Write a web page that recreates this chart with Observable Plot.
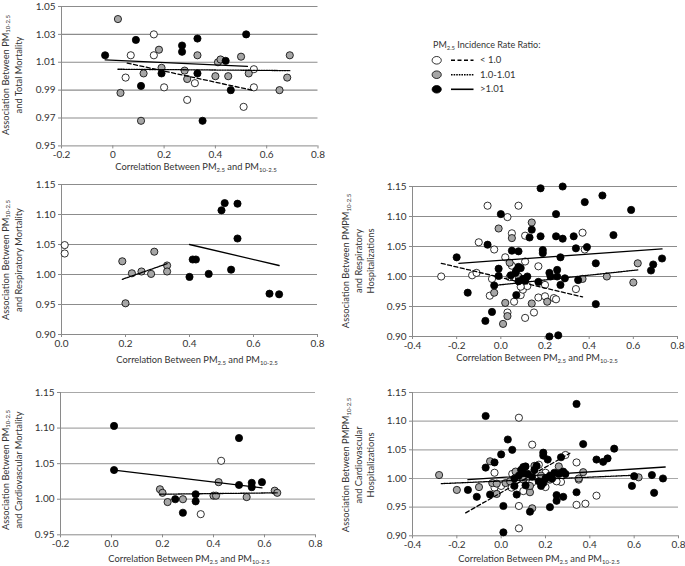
<!DOCTYPE html>
<html><head><meta charset="utf-8">
<script src="https://cdn.jsdelivr.net/npm/d3@7"></script>
<script src="https://cdn.jsdelivr.net/npm/@observablehq/plot@0.6"></script>
<style>
body{margin:0;background:#fff;}
#root{position:relative;width:685px;height:566px;overflow:hidden;font-family:Lato,"Open Sans",sans-serif;color:#333;}
.xt{position:absolute;font-size:9.3px;white-space:nowrap;transform:translate(-50%,-50%);line-height:12px;}
.yt{position:absolute;font-size:9.3px;white-space:nowrap;text-align:center;line-height:12.5px;transform:translate(-50%,-50%) rotate(-90deg);}
.lg{position:absolute;font-size:9px;white-space:nowrap;transform:translateY(-50%);line-height:12px;}
sub{font-size:65%;vertical-align:-0.3em;line-height:0;}
</style></head><body><div id="root"></div>
<script>
// ---------- DATA ----------
// categories: low = PM2.5 IRR < 1.0 (white), mid = 1.0-1.01 (gray), high = >1.01 (black)
const legendLabels = ["< 1.0", "1.0-1.01", ">1.01"];

// Panel 1: Total Mortality
const totMortLow = [[0.05,0.999],[0.07,1.015],[0.16,1.030],[0.16,1.015],[0.20,0.992],[0.29,0.983],[0.32,0.995],[0.51,0.978],[0.55,0.992],[0.55,1.005]];
const totMortMid = [[0.02,1.041],[0.03,0.988],[0.11,0.968],[0.12,1.002],[0.18,1.019],[0.19,1.006],[0.28,1.004],[0.29,0.998],[0.33,1.015],[0.41,1.010],[0.42,1.012],[0.40,1.000],[0.45,1.000],[0.50,1.014],[0.53,1.002],[0.65,0.990],[0.68,0.999],[0.69,1.015]];
const totMortHigh = [[-0.03,1.015],[0.09,1.026],[0.11,0.993],[0.19,1.002],[0.27,1.022],[0.27,1.0175],[0.33,1.027],[0.33,1.002],[0.35,0.968],[0.44,1.011],[0.46,0.990],[0.52,1.030]];
const totMortTrendLow = [[0.056,1.0094],[0.55,0.9897]];
const totMortTrendMid = [[0.02,1.005],[0.69,1.004]];
const totMortTrendHigh = [[-0.03,1.0117],[0.525,1.007]];

// Panel 2: Respiratory Mortality
const respMortLow = [[0.01,1.049],[0.01,1.035]];
const respMortMid = [[0.19,1.022],[0.20,0.952],[0.22,1.002],[0.25,1.005],[0.28,1.001],[0.29,1.038],[0.33,1.015],[0.33,1.005]];
const respMortHigh = [[0.40,0.996],[0.41,1.025],[0.42,1.025],[0.46,1.001],[0.50,1.107],[0.51,1.119],[0.55,1.118],[0.55,1.060],[0.53,1.008],[0.65,0.968],[0.68,0.967]];
const respMortTrendMid = [[0.19,0.992],[0.33,1.018]];
const respMortTrendHigh = [[0.40,1.050],[0.68,1.015]];

// Panel 3: Cardiovascular Mortality
const cardMortLow = [[0.43,1.054],[0.35,0.979]];
const cardMortMid = [[0.19,1.014],[0.20,1.009],[0.22,0.996],[0.28,1.000],[0.40,1.005],[0.41,1.005],[0.42,1.024],[0.53,1.003],[0.64,1.012],[0.65,1.009]];
const cardMortHigh = [[0.01,1.103],[0.01,1.041],[0.25,1.000],[0.28,0.981],[0.33,1.007],[0.33,0.997],[0.50,1.086],[0.50,1.020],[0.55,1.023],[0.55,1.017],[0.59,1.024]];
const cardMortTrendMid = [[0.19,1.007],[0.65,1.009]];
const cardMortTrendHigh = [[0.01,1.041],[0.59,1.016]];

// Panel 4: Respiratory Hospitalizations
const respHospLow = [[-0.27,1.000],[-0.13,1.002],[-0.11,1.006],[-0.10,1.057],[-0.06,1.118],[0.08,1.118],[0.03,1.099],[0.05,1.072],[0.11,1.068],[-0.03,1.045],[0.02,1.032],[0.11,1.025],[0.05,1.018],[0.17,1.017],[-0.04,0.996],[-0.05,0.968],[0.09,0.969],[0.06,0.958],[0.17,0.965],[0.03,0.940],[0.15,0.940],[0.11,0.931],[0.20,0.986],[0.34,0.979],[0.20,0.967],[0.24,0.964],[0.37,1.073],[0.38,1.045],[0.10,0.978],[0.12,0.984],[0.04,0.999],[0.09,0.983],[0.25,0.962]];
const respHospMid = [[-0.01,1.080],[0.14,1.090],[0.05,1.064],[0.04,1.023],[-0.03,0.973],[0.02,0.956],[0.14,0.955],[0.03,0.934],[0.01,0.921],[0.21,0.958],[0.48,1.000],[0.60,0.990],[0.62,1.022],[0.37,0.996],[0.08,1.000],[0.11,0.996]];
const respHospHigh = [[-0.20,1.032],[-0.15,0.973],[-0.07,0.926],[-0.06,1.053],[-0.04,0.941],[-0.03,0.985],[-0.01,1.013],[-0.01,1.001],[0.00,1.104],[0.05,1.043],[0.08,1.042],[0.045,1.002],[0.066,1.006],[0.08,1.016],[0.07,1.010],[0.09,1.014],[0.07,0.969],[0.08,0.992],[0.11,0.993],[0.13,1.065],[0.14,1.078],[0.18,1.147],[0.18,1.067],[0.19,1.044],[0.19,1.039],[0.17,0.991],[0.22,1.006],[0.225,1.000],[0.255,1.011],[0.255,1.000],[0.29,0.997],[0.35,0.994],[0.27,0.986],[0.25,1.104],[0.25,1.067],[0.28,1.150],[0.28,1.063],[0.27,1.032],[0.33,1.067],[0.34,1.047],[0.38,1.124],[0.39,1.049],[0.43,1.022],[0.43,0.954],[0.46,1.135],[0.51,1.069],[0.59,1.111],[0.68,1.010],[0.69,1.020],[0.73,1.030],[0.22,0.900],[0.26,0.902],[0.10,0.996],[0.12,1.000]];
const respHospTrendLow = [[-0.27,1.022],[0.37,0.966]];
const respHospTrendMid = [[-0.03,0.985],[0.62,1.011]];
const respHospTrendHigh = [[-0.19,1.022],[0.73,1.046]];

// Panel 5: Cardiovascular Hospitalizations
const cardHospLow = [[0.08,1.106],[0.14,1.059],[0.29,1.041],[0.34,1.028],[-0.03,1.010],[-0.03,0.984],[0.00,0.987],[0.047,0.984],[0.14,0.993],[0.08,0.952],[0.08,0.913],[0.34,0.954],[0.38,0.956],[0.43,0.970],[0.27,0.994],[0.17,1.024],[0.20,0.985],[0.25,0.995],[0.35,0.998],[0.10,0.978],[0.05,1.008],[0.20,1.010]];
const cardHospMid = [[-0.28,1.006],[-0.20,0.980],[-0.10,0.985],[-0.05,1.030],[-0.04,0.992],[-0.02,0.973],[-0.02,0.991],[0.02,0.992],[0.065,1.012],[0.13,0.976],[0.14,0.948],[0.13,0.987],[0.15,1.022],[0.26,1.021],[0.37,1.011],[0.62,1.002],[0.35,1.000],[0.04,0.995],[0.18,1.005],[0.10,0.998],[0.22,0.998],[0.27,1.010]];
const cardHospHigh = [[-0.07,1.109],[0.34,1.130],[0.03,1.068],[0.05,1.050],[0.00,1.042],[0.37,1.060],[0.51,1.052],[0.48,1.035],[0.46,1.029],[0.43,1.033],[0.27,1.037],[0.21,1.033],[0.19,1.045],[0.19,1.040],[0.16,1.022],[0.11,1.021],[0.10,1.020],[-0.07,1.019],[-0.03,1.028],[-0.05,0.972],[-0.11,0.968],[-0.15,0.980],[0.06,0.987],[0.07,0.972],[0.01,0.952],[0.01,0.906],[0.13,0.942],[0.22,0.950],[0.25,0.961],[0.25,0.971],[0.28,0.968],[0.34,0.976],[0.60,1.004],[0.59,0.987],[0.68,1.006],[0.73,1.000],[0.69,0.975],[0.11,0.988],[0.18,0.987],[0.08,1.005],[0.10,1.010],[0.12,1.008],[0.14,1.003],[0.17,0.995],[0.19,0.992],[0.22,1.005],[0.24,1.010],[0.26,1.008],[0.28,1.012],[0.29,1.008],[0.06,1.000],[0.09,1.015],[0.15,1.015],[0.20,1.000],[0.23,1.000]];
const cardHospTrendLow = [[-0.16,0.940],[0.31,1.044]];
const cardHospTrendMid = [[-0.27,0.991],[0.62,1.006]];
const cardHospTrendHigh = [[-0.15,0.998],[0.74,1.020]];

// Tick values and labels
const xTicksA = [-0.2,0,0.2,0.4,0.6,0.8];
const xLabelsA = ["-0.2","0","0.2","0.4","0.6","0.8"];
const xTicksB = [0,0.2,0.4,0.6,0.8];
const xLabelsB = ["0.0","0.2","0.4","0.6","0.8"];
const xLabelsC = ["-0.2","0.0","0.2","0.4","0.6","0.8"];
const xTicksD = [-0.4,-0.2,0,0.2,0.4,0.6,0.8];
const xLabelsD = ["-0.4","-0.2","0.0","0.2","0.4","0.6","0.8"];
const yTicksA = [0.95,0.97,0.99,1.01,1.03,1.05];
const yLabelsA = ["0.95","0.97","0.99","1.01","1.03","1.05"];
const yTicksB = [0.90,0.95,1.00,1.05,1.10,1.15];
const yLabelsB = ["0.90","0.95","1.00","1.05","1.10","1.15"];
const yTicksC = [0.95,1.00,1.05,1.10,1.15];
const yLabelsC = ["0.95","1.00","1.05","1.10","1.15"];

const xTitle = "Correlation Between PM<sub>2.5</sub> and PM<sub>10-2.5</sub>";
const yTitles = {
  totMort: ["Association Between PM<sub>10-2.5</sub>","and Total Mortality"],
  respMort: ["Association Between PM<sub>10-2.5</sub>","and Respiratory Mortality"],
  cardMort: ["Association Between PM<sub>10-2.5</sub>","and Cardiovascular Mortality"],
  respHosp: ["Association Between PMPM<sub>10-2.5</sub>","and Respiratory","Hospitalizations"],
  cardHosp: ["Association Between PMPM<sub>10-2.5</sub>","and Cardiovascular","Hospitalizations"]
};

// ---------- RENDER ----------
const root = document.getElementById("root");
const FONT = 'Lato, "Open Sans", sans-serif';
const DASH_LOW = "4,2.5", DASH_MID = "1.6,1";

function panel(c) {
  const ml = 40, mr = 6, mt = 6, mb = 20;
  const w = c.fx[1] - c.fx[0] + ml + mr, h = c.fy[1] - c.fy[0] + mt + mb;
  const dotOpts = (fill) => ({x: d => d[0], y: d => d[1], r: 3.6, fill, stroke: "#000", strokeWidth: 0.8});
  const lineOpts = (dash) => ({x: d => d[0], y: d => d[1], stroke: "#000", strokeWidth: 1.3, strokeDasharray: dash});
  const marks = [
    Plot.gridY(c.yTicks.slice(1), {stroke: c.grid, strokeOpacity: 1, strokeWidth: 1.2}),
    Plot.ruleX([c.xDomain[0]], {stroke: "#8a8a8a", strokeWidth: 1}),
    Plot.ruleY([c.yDomain[0]], {stroke: "#8a8a8a", strokeWidth: 1}),
    Plot.axisX(c.xTicks, {tickSize: 3, tickPadding: 2, tickFormat: d => c.xLabels[c.xTicks.indexOf(d)], label: null, stroke: "#8a8a8a", fill: "#333", fontSize: 10}),
    Plot.axisY(c.yTicks, {tickSize: 3, tickPadding: 3, tickFormat: d => c.yLabels[c.yTicks.indexOf(d)], label: null, stroke: "#8a8a8a", fill: "#333", fontSize: 10}),
    Plot.dot(c.low, dotOpts("#ffffff")),
    Plot.dot(c.mid, dotOpts("#a6a6a6")),
    Plot.dot(c.high, dotOpts("#000000"))
  ];
  if (c.tLow) marks.push(Plot.line(c.tLow, lineOpts(DASH_LOW)));
  if (c.tMid) marks.push(Plot.line(c.tMid, lineOpts(DASH_MID)));
  if (c.tHigh) marks.push(Plot.line(c.tHigh, lineOpts(null)));
  const svg = Plot.plot({
    width: w, height: h, marginLeft: ml, marginRight: mr, marginTop: mt, marginBottom: mb,
    style: {fontFamily: FONT, fontSize: "10px", color: "#333", background: "transparent", overflow: "visible"},
    x: {domain: c.xDomain, nice: false},
    y: {domain: c.yDomain, nice: false},
    marks
  });
  svg.style.position = "absolute";
  svg.style.left = (c.fx[0] - ml) + "px";
  svg.style.top = (c.fy[0] - mt) + "px";
  root.appendChild(svg);

  const xt = document.createElement("div");
  xt.className = "xt";
  xt.innerHTML = xTitle;
  xt.style.left = c.xt[0] + "px"; xt.style.top = c.xt[1] + "px";
  root.appendChild(xt);

  const yt = document.createElement("div");
  yt.className = "yt";
  yt.innerHTML = c.yTitle.join("<br>");
  yt.style.left = c.yt[0] + "px"; yt.style.top = c.yt[1] + "px";
  root.appendChild(yt);
}

panel({fx: [60.5, 317], fy: [5.6, 145], xDomain: [-0.2, 0.8], yDomain: [0.95, 1.05],
  xTicks: xTicksA, xLabels: xLabelsA, yTicks: yTicksA, yLabels: yLabelsA, grid: "#8c8c8c",
  low: totMortLow, mid: totMortMid, high: totMortHigh, tLow: totMortTrendLow, tMid: totMortTrendMid, tHigh: totMortTrendHigh,
  xt: [196, 167], yt: [12, 75], yTitle: yTitles.totMort});

panel({fx: [60.5, 316.5], fy: [184, 334], xDomain: [0, 0.8], yDomain: [0.90, 1.15],
  xTicks: xTicksB, xLabels: xLabelsB, yTicks: yTicksB, yLabels: yLabelsB, grid: "#8c8c8c",
  low: respMortLow, mid: respMortMid, high: respMortHigh, tMid: respMortTrendMid, tHigh: respMortTrendHigh,
  xt: [197, 360], yt: [12, 260], yTitle: yTitles.respMort});

panel({fx: [60, 315], fy: [391.7, 534], xDomain: [-0.2, 0.8], yDomain: [0.95, 1.15],
  xTicks: xTicksA, xLabels: xLabelsC, yTicks: yTicksC, yLabels: yLabelsC, grid: "#a8a8a8",
  low: cardMortLow, mid: cardMortMid, high: cardMortHigh, tMid: cardMortTrendMid, tHigh: cardMortTrendHigh,
  xt: [189, 559], yt: [12, 470], yTitle: yTitles.cardMort});

panel({fx: [412, 677], fy: [186.3, 336.3], xDomain: [-0.4, 0.8], yDomain: [0.90, 1.15],
  xTicks: xTicksD, xLabels: xLabelsD, yTicks: yTicksB, yLabels: yLabelsB, grid: "#8c8c8c",
  low: respHospLow, mid: respHospMid, high: respHospHigh, tLow: respHospTrendLow, tMid: respHospTrendMid, tHigh: respHospTrendHigh,
  xt: [537, 358], yt: [358.5, 261], yTitle: yTitles.respHosp});

panel({fx: [412, 678], fy: [391.7, 535], xDomain: [-0.4, 0.8], yDomain: [0.90, 1.15],
  xTicks: xTicksD, xLabels: xLabelsD, yTicks: yTicksB, yLabels: yLabelsB, grid: "#a8a8a8",
  low: cardHospLow, mid: cardHospMid, high: cardHospHigh, tLow: cardHospTrendLow, tMid: cardHospTrendMid, tHigh: cardHospTrendHigh,
  xt: [539, 559], yt: [358.5, 465], yTitle: yTitles.cardHosp});

// ---------- LEGEND ----------
const lgTitle = document.createElement("div");
lgTitle.className = "lg";
lgTitle.innerHTML = "PM<sub>2.5</sub> Incidence Rate Ratio:";
lgTitle.style.left = "433px"; lgTitle.style.top = "45px";
root.appendChild(lgTitle);

const lgSvg = d3.create("svg").attr("width", 60).attr("height", 50)
  .style("position", "absolute").style("left", "428px").style("top", "52px");
const lgFills = ["#ffffff", "#a6a6a6", "#000000"];
const lgDash = [DASH_LOW, DASH_MID, null];
const lgY = [8.3, 22.7, 37.3];
lgFills.forEach((f, i) => {
  lgSvg.append("ellipse").attr("cx", 8.7).attr("cy", lgY[i]).attr("rx", 4.6).attr("ry", 3.8)
    .attr("fill", f).attr("stroke", "#000").attr("stroke-width", 0.8);
  lgSvg.append("line").attr("x1", 23).attr("x2", 45.5).attr("y1", lgY[i]).attr("y2", lgY[i])
    .attr("stroke", "#000").attr("stroke-width", 1.6).attr("stroke-dasharray", lgDash[i]);
});
root.appendChild(lgSvg.node());
legendLabels.forEach((t, i) => {
  const d = document.createElement("div");
  d.className = "lg";
  d.textContent = t;
  d.style.left = "480px"; d.style.top = (52 + lgY[i]) + "px";
  d.style.fontSize = "9.5px";
  root.appendChild(d);
});
</script></body></html>
